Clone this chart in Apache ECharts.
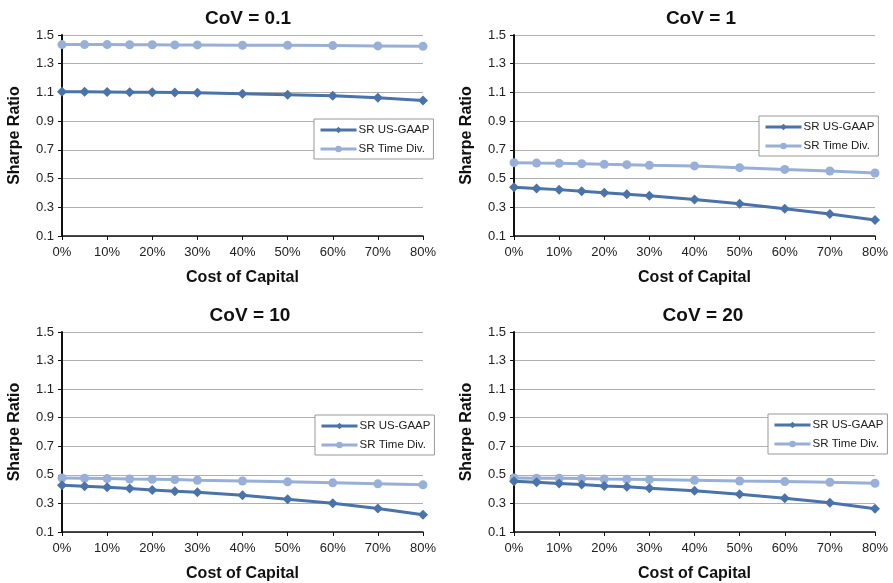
<!DOCTYPE html>
<html>
<head>
<meta charset="utf-8">
<script src="https://cdn.jsdelivr.net/npm/echarts@6/dist/echarts.min.js"></script>
<style>
  body { margin: 0; background: #fff; }
  #main { width: 893px; height: 583px; }
</style>
</head>
<body>
<div id="main"></div>
<script>
const costOfCapital = [0, 5, 10, 15, 20, 25, 30, 40, 50, 60, 70, 80];
const panelTitles = ["CoV = 0.1", "CoV = 1", "CoV = 10", "CoV = 20"];
const yTicks = [0.1, 0.3, 0.5, 0.7, 0.9, 1.1, 1.3, 1.5];

// SR US-GAAP per panel
const gaapCov01 = [1.105, 1.104, 1.103, 1.102, 1.101, 1.099, 1.097, 1.091, 1.084, 1.077, 1.063, 1.043];
const gaapCov1  = [0.439, 0.430, 0.423, 0.411, 0.402, 0.390, 0.381, 0.355, 0.325, 0.290, 0.253, 0.211];
const gaapCov10 = [0.427, 0.420, 0.413, 0.404, 0.394, 0.385, 0.379, 0.358, 0.330, 0.302, 0.265, 0.221];
const gaapCov20 = [0.455, 0.448, 0.439, 0.432, 0.422, 0.416, 0.406, 0.388, 0.365, 0.337, 0.304, 0.262];

// SR Time Div. per panel
const timeCov01 = [1.433, 1.433, 1.433, 1.432, 1.432, 1.431, 1.431, 1.429, 1.428, 1.426, 1.424, 1.421];
const timeCov1  = [0.611, 0.608, 0.606, 0.604, 0.599, 0.597, 0.592, 0.588, 0.576, 0.564, 0.553, 0.539];
const timeCov10 = [0.478, 0.476, 0.474, 0.471, 0.469, 0.467, 0.462, 0.457, 0.451, 0.444, 0.437, 0.430];
const timeCov20 = [0.478, 0.476, 0.476, 0.474, 0.471, 0.469, 0.467, 0.462, 0.457, 0.453, 0.448, 0.441];

const gaapData = [gaapCov01, gaapCov1, gaapCov10, gaapCov20];
const timeData = [timeCov01, timeCov1, timeCov10, timeCov20];

const DARK = "#4a72ab";
const LIGHT = "#98b0d8";
const FONT = "Liberation Sans";

// panel layout: [left, top]
const pos = [[62, 35], [514, 35], [62, 332], [514, 332]];
const W = 361, H = 201;
const titleCenters = [243, 696, 245, 698];
const legendPos = [[314, 119], [759, 116], [315, 415], [768, 414]];

const grids = [], xAxes = [], yAxes = [], series = [], titles = [], legends = [];

pos.forEach(([l, t], i) => {
  grids.push({ left: l, top: t, width: W, height: H });

  titles.push({
    text: panelTitles[i],
    left: titleCenters[i],
    top: t - 31,
    textAlign: "center",
    textStyle: { fontFamily: FONT, fontSize: 19, fontWeight: "bold", color: "#111" }
  });

  xAxes.push({
    type: "value", gridIndex: i, min: 0, max: 80, interval: 10,
    name: "Cost of Capital", nameLocation: "middle", nameGap: 34,
    nameTextStyle: { fontFamily: FONT, fontSize: 16, fontWeight: "bold", color: "#111" },
    axisLine: { lineStyle: { color: "#111", width: 1.5 } },
    axisTick: { show: true, length: 4, lineStyle: { color: "#111" } },
    axisLabel: { fontFamily: FONT, fontSize: 13, color: "#222", margin: 10, formatter: v => v + "%" },
    splitLine: { show: false }
  });

  yAxes.push({
    type: "value", gridIndex: i, min: yTicks[0], max: yTicks[yTicks.length - 1], interval: 0.2,
    name: "Sharpe Ratio", nameLocation: "middle", nameGap: 39,
    nameTextStyle: { fontFamily: FONT, fontSize: 16, fontWeight: "bold", color: "#111" },
    axisLine: { show: true, lineStyle: { color: "#111", width: 2 } },
    axisTick: { show: true, length: 4, lineStyle: { color: "#111" } },
    axisLabel: { fontFamily: FONT, fontSize: 13, color: "#222", margin: 8, formatter: v => v.toFixed(1) },
    splitLine: { show: true, lineStyle: { color: "#b0b0b0", width: 1 } }
  });

  series.push({
    name: "SR US-GAAP", type: "line", xAxisIndex: i, yAxisIndex: i,
    data: costOfCapital.map((x, k) => [x, gaapData[i][k]]),
    symbol: "diamond", symbolSize: 10,
    lineStyle: { color: DARK, width: 3 },
    itemStyle: { color: DARK },
    z: 3
  });
  series.push({
    name: "SR Time Div.", type: "line", xAxisIndex: i, yAxisIndex: i,
    data: costOfCapital.map((x, k) => [x, timeData[i][k]]),
    symbol: "circle", symbolSize: 9,
    lineStyle: { color: LIGHT, width: 3 },
    itemStyle: { color: LIGHT },
    z: 2
  });

  legends.push({
    left: legendPos[i][0], top: legendPos[i][1],
    orient: "vertical",
    data: ["SR US-GAAP", "SR Time Div."],
    itemWidth: 36, itemHeight: 8, itemGap: 7,
    padding: [5, 4, 4, 5],
    backgroundColor: "#fff",
    borderColor: "#999", borderWidth: 1,
    lineStyle: { width: 3 },
    textStyle: { fontFamily: FONT, fontSize: 11.5, color: "#222", padding: [0, 0, 0, -3] }
  });
});

const chart = echarts.init(document.getElementById("main"));
chart.setOption({
  animation: false,
  backgroundColor: "#fff",
  title: titles,
  legend: legends,
  grid: grids,
  xAxis: xAxes,
  yAxis: yAxes,
  series: series
});
</script>
</body>
</html>
